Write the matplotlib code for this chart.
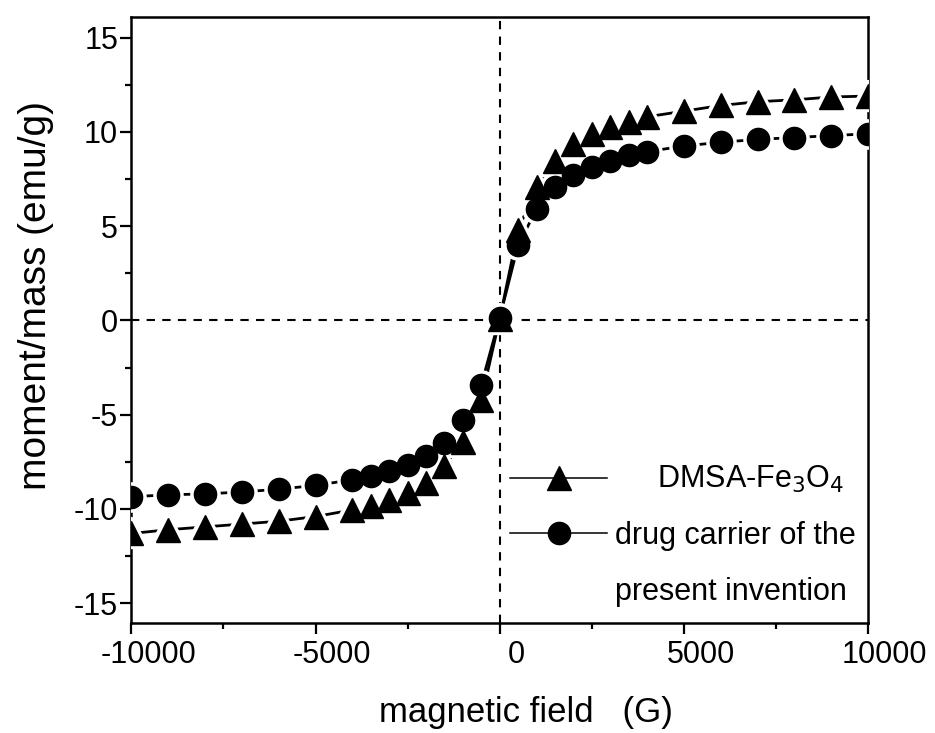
import numpy as np
import matplotlib
matplotlib.use("Agg")
import matplotlib.pyplot as plt
from matplotlib.lines import Line2D
from matplotlib.markers import MarkerStyle
from matplotlib.ticker import MultipleLocator
import matplotlib.transforms as mtransforms

plt.rcParams['font.family'] = ['Liberation Sans', 'DejaVu Sans']
plt.rcParams['axes.unicode_minus'] = False

# magnetic field (G)
field = [-10000, -9000, -8000, -7000, -6000, -5000, -4000, -3500, -3000,
         -2500, -2000, -1500, -1000, -500, 0, 500, 1000, 1500, 2000, 2500,
         3000, 3500, 4000, 5000, 6000, 7000, 8000, 9000, 10000]

# moment/mass (emu/g)
dmsa = [-11.3, -11.1, -10.95, -10.8, -10.65, -10.4, -10.05, -9.85, -9.5,
        -9.15, -8.6, -7.7, -6.45, -4.2, 0.1, 4.8, 7.1, 8.45, 9.35, 9.9,
        10.25, 10.5, 10.8, 11.1, 11.4, 11.6, 11.7, 11.85, 11.9]
carrier = [-9.35, -9.25, -9.2, -9.1, -8.95, -8.75, -8.45, -8.25, -8.0,
           -7.65, -7.2, -6.5, -5.3, -3.4, 0.15, 4.0, 5.9, 7.1, 7.7, 8.15,
           8.45, 8.75, 8.95, 9.25, 9.45, 9.6, 9.7, 9.8, 9.9]

label_dmsa = "     DMSA-Fe$_3$O$_4$"
label_carrier = ["drug carrier of the", "present invention"]

fig = plt.figure(figsize=(9.35, 7.33), dpi=100)
ax = fig.add_axes([0.1405, 0.150, 0.788, 0.827])

# reference lines through the origin
ax.axhline(0, color='black', lw=1.5, dashes=(4, 3.5), zorder=1)
ax.axvline(0, color='black', lw=1.5, dashes=(4, 3.5), zorder=1)

tri = MarkerStyle('^', joinstyle='round')
dot = MarkerStyle('o')

# solid lines, broken around each symbol (Origin "gap to symbol")
ax.plot(field, dmsa, color='black', lw=2, zorder=2)
ax.plot(field, carrier, color='black', lw=2, zorder=2)
ax.plot(field, dmsa, ls='none', marker=tri, ms=17, mfc='white',
        mec='white', mew=6, zorder=3)
ax.plot(field, carrier, ls='none', marker=dot, ms=16, mfc='white',
        mec='white', mew=6, zorder=3)
ax.plot(field, dmsa, ls='none', marker='^', ms=17, mfc='black',
        mec='black', mew=1, zorder=4)
ax.plot(field, carrier, ls='none', marker='o', ms=16, mfc='black',
        mec='black', mew=1, zorder=4)

ax.set_xlim(-10000, 10000)
ax.set_ylim(-16.05, 16.1)
ax.xaxis.set_major_locator(MultipleLocator(5000))
ax.xaxis.set_minor_locator(MultipleLocator(2500))
ax.yaxis.set_major_locator(MultipleLocator(5))
ax.yaxis.set_minor_locator(MultipleLocator(2.5))

for s in ax.spines.values():
    s.set_linewidth(1.8)
ax.tick_params(which='major', direction='out', length=8, width=1.6,
               labelsize=22)
ax.tick_params(which='minor', direction='out', length=4.5, width=1.6)
ax.tick_params(axis='y', pad=1.5)
ax.tick_params(axis='x', pad=4)

shift = mtransforms.ScaledTranslation(12 / 72, 0, fig.dpi_scale_trans)
for lab in ax.get_xticklabels():
    lab.set_transform(lab.get_transform() + shift)

ax.set_xlabel("magnetic field   (G)", fontsize=25)
ax.set_ylabel("moment/mass (emu/g)", fontsize=28)
ax.xaxis.set_label_coords(0.536, -0.12)
ax.yaxis.set_label_coords(-0.105, 0.54)

handles = [
    Line2D([], [], color='black', lw=1.1, marker='^', ms=17),
    Line2D([], [], color='black', lw=1.1, marker='o', ms=16),
    Line2D([], [], color='none'),
]
ax.legend(handles, [label_dmsa] + label_carrier, loc='upper left',
          bbox_to_anchor=(0.514, 0.262), frameon=False, fontsize=22,
          handlelength=3.17, handletextpad=0.26, labelspacing=0.84,
          borderpad=0, borderaxespad=0)

fig.savefig("out.png", dpi=100)
